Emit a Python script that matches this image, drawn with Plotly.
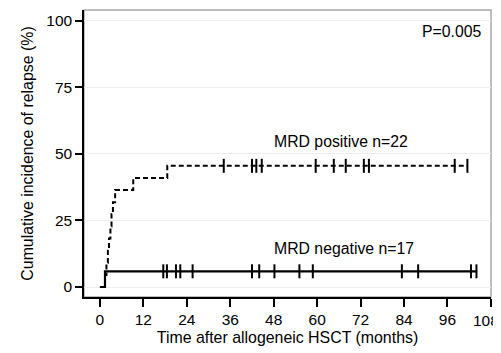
import plotly.graph_objects as go

# Step curves (time in months, cumulative incidence %)
pos_times = [0, 1.4, 1.8, 2.2, 2.5, 2.9, 3.2, 3.6, 4.2, 9.2, 18.6, 101.5]
pos_values = [0, 4.5, 9.1, 13.6, 18.2, 22.7, 27.3, 31.8, 36.4, 40.9, 45.5, 45.5]
pos_censor = [34.2, 42.0, 43.2, 44.7, 59.6, 64.6, 67.9, 72.9, 74.3, 98.0, 101.5]

neg_times = [0, 1.4, 104.2]
neg_values = [0, 5.9, 5.9]
neg_censor = [17.5, 18.5, 21.0, 22.2, 25.6, 42.0, 44.0, 48.2, 55.1, 58.8, 83.4, 87.9, 102.5, 104.0]

x_ticks = [0, 12, 24, 36, 48, 60, 72, 84, 96, 108]
x_tick_labels = [str(v) for v in x_ticks]
y_ticks = [0, 25, 50, 75, 100]


def value_at(times, values, t):
    v = values[0]
    for tt, vv in zip(times, values):
        if tt <= t:
            v = vv
    return v


FONT = "Liberation Sans, Arial, sans-serif"
FS = 15.5
FS_TITLE = 15.9
FS_ANN = 15.8

fig = go.Figure()
fig.add_trace(go.Scatter(x=pos_times, y=pos_values, mode="lines", line_shape="hv",
                         line=dict(color="black", width=2, dash="5px,3px"), showlegend=False))
fig.add_trace(go.Scatter(x=pos_censor, y=[value_at(pos_times, pos_values, t) for t in pos_censor],
                         mode="markers", marker=dict(symbol="line-ns-open", size=10, color="black",
                                                     line=dict(color="black", width=2)),
                         showlegend=False))
fig.add_trace(go.Scatter(x=neg_times, y=neg_values, mode="lines", line_shape="hv",
                         line=dict(color="black", width=2.2), showlegend=False))
fig.add_trace(go.Scatter(x=neg_censor, y=[value_at(neg_times, neg_values, t) for t in neg_censor],
                         mode="markers", marker=dict(symbol="line-ns-open", size=10, color="black",
                                                     line=dict(color="black", width=2)),
                         showlegend=False))

fig.add_annotation(x=106.2, y=96.0, text="P=0.005", showarrow=False, xanchor="right",
                   font=dict(size=FS_ANN, color="black", family=FONT))
fig.add_annotation(x=47.5, y=54.7, text="MRD positive n=22", showarrow=False, xanchor="left",
                   font=dict(size=FS_ANN, color="black", family=FONT))
fig.add_annotation(x=47.5, y=14.5, text="MRD negative n=17", showarrow=False, xanchor="left",
                   font=dict(size=FS_ANN, color="black", family=FONT))

# Last x tick label sits at the right edge of the picture; draw it so it stays visible.
fig.add_annotation(x=x_ticks[-1], y=0, xref="x", yref="paper", text=x_tick_labels[-1],
                   showarrow=False, xanchor="center", yanchor="top", xshift=-5, yshift=-13,
                   font=dict(size=FS, color="black", family=FONT))

fig.add_shape(type="rect", xref="paper", yref="paper", x0=0, y0=0, x1=1, y1=1,
              line=dict(color="#a8a8a8", width=1.5), layer="below")

# The page body adds an 8px offset, so the figure is sized to the visible area.
fig.update_layout(
    width=493, height=345,
    margin=dict(l=76, r=10, t=2, b=56),
    paper_bgcolor="white", plot_bgcolor="white",
    font=dict(family=FONT, size=FS, color="black"),
    xaxis=dict(range=[-4.4, 108.02], tickvals=x_ticks,
               ticktext=x_tick_labels[:-1] + [""],
               ticks="outside", ticklen=8, tickwidth=1.5,
               tickcolor="black", showline=True, linecolor="black", linewidth=1.5,
               showgrid=False, zeroline=False, automargin=False,
               title=dict(text="Time after allogeneic HSCT (months)", standoff=5,
                          font=dict(size=FS_TITLE))),
    yaxis=dict(range=[-3.75, 104], tickvals=y_ticks, ticks="outside", ticklen=7, tickwidth=1.5,
               tickcolor="black", showline=True, linecolor="black", linewidth=1.5,
               showgrid=True, gridcolor="#eeeeee", gridwidth=1, zeroline=False, automargin=False,
               title=dict(text="Cumulative incidence of relapse (%)", standoff=9,
                          font=dict(size=FS_TITLE))),
)

fig.write_html("out.html")
